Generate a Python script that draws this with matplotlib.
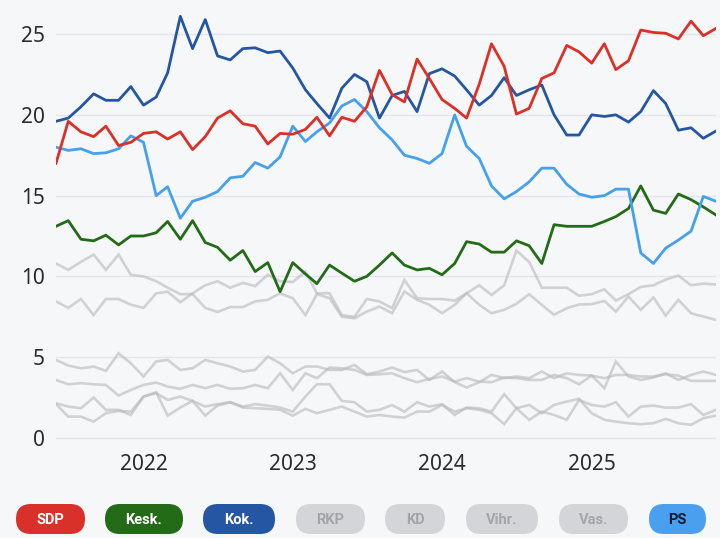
import matplotlib
matplotlib.use('Agg')
import matplotlib.pyplot as plt
import pandas as pd
from matplotlib.patches import FancyBboxPatch

dates = pd.date_range('2021-06-01', periods=54, freq='MS')

sdp = [17.0, 19.6, 18.95, 18.65, 19.3, 18.1, 18.3, 18.85, 18.95, 18.5,
       18.95, 17.85, 18.65, 19.8, 20.25, 19.45, 19.3, 18.2, 18.85, 18.8,
       19.1, 19.85, 18.7, 19.85, 19.6, 20.5, 22.75, 21.25, 20.8, 23.45,
       22.25, 20.95, 20.4, 19.8, 21.9, 24.4, 23.0, 20.05, 20.4, 22.25,
       22.6, 24.3, 23.9, 23.2, 24.4, 22.8, 23.35, 25.25, 25.1, 25.05,
       24.7, 25.8, 24.9, 25.35]
kok = [19.6, 19.8, 20.5, 21.3, 20.9, 20.9, 21.75, 20.6, 21.1, 22.6,
       26.1, 24.1, 25.9, 23.65, 23.4, 24.1, 24.15, 23.85, 23.95, 22.9,
       21.55, 20.7, 19.8, 21.65, 22.5, 22.05, 19.8, 21.2, 21.45, 20.2,
       22.55, 22.85, 22.4, 21.55, 20.6, 21.2, 22.3, 21.2, 21.55, 21.85,
       20.0, 18.75, 18.75, 20.0, 19.9, 20.0, 19.55, 20.2, 21.5, 20.7,
       19.05, 19.2, 18.55, 19.0]
ps = [18.0, 17.8, 17.9, 17.6, 17.65, 17.9, 18.7, 18.3, 15.0, 15.55,
      13.6, 14.65, 14.9, 15.25, 16.1, 16.2, 17.05, 16.7, 17.4, 19.3,
      18.35, 18.95, 19.5, 20.55, 20.95, 20.2, 19.2, 18.45, 17.5, 17.3,
      17.0, 17.6, 20.0, 18.05, 17.3, 15.6, 14.8, 15.25, 15.85, 16.7,
      16.7, 15.7, 15.1, 14.9, 15.0, 15.4, 15.4, 11.45, 10.8, 11.75,
      12.25, 12.8, 14.95, 14.65]
kesk = [13.1, 13.45, 12.3, 12.2, 12.55, 11.95, 12.5, 12.5, 12.7, 13.4,
        12.3, 13.45, 12.1, 11.8, 11.0, 11.6, 10.3, 10.85, 9.05, 10.85,
        10.15, 9.55, 10.7, 10.2, 9.7, 10.0, 10.7, 11.45, 10.7, 10.4,
        10.5, 10.1, 10.8, 12.15, 12.0, 11.5, 11.5, 12.2, 11.9, 10.8,
        13.2, 13.1, 13.1, 13.1, 13.4, 13.7, 14.2, 15.6, 14.1, 13.9,
        15.1, 14.75, 14.3, 13.8]
vas = [8.45, 8.05, 8.6, 7.6, 8.6, 8.6, 8.25, 8.05, 8.95, 9.05,
       8.4, 8.95, 9.45, 9.7, 9.3, 9.6, 9.4, 10.1, 9.7, 9.65,
       10.3, 8.95, 8.96, 7.6, 7.5, 8.6, 8.45, 8.03, 9.78, 8.65,
       8.6, 8.6, 8.5, 8.95, 9.45, 8.85, 9.45, 11.6, 10.9, 9.3,
       9.3, 9.3, 8.8, 8.9, 9.2, 8.5, 8.9, 9.35, 9.45, 9.8,
       10.05, 9.45, 9.55, 9.5]
vihr = [10.8, 10.4, 10.9, 11.35, 10.4, 11.35, 10.1, 10.0, 9.7, 9.3,
        8.9, 8.9, 8.05, 7.8, 8.1, 8.1, 8.45, 8.55, 8.95, 8.65,
        7.6, 8.9, 8.65, 7.5, 7.4, 7.82, 8.13, 7.72, 9.06, 8.55,
        8.24, 7.72, 8.24, 8.96, 8.24, 7.72, 7.93, 8.3, 8.9, 8.24,
        7.62, 8.03, 8.26, 8.28, 8.48, 7.82, 8.75, 7.93, 8.69, 7.57,
        8.55, 7.72, 7.51, 7.31]
rkp = [4.83, 4.48, 4.31, 4.42, 4.15, 5.24, 4.62, 3.80, 4.73, 4.83,
       4.21, 4.31, 4.83, 4.62, 4.42, 4.11, 4.21, 5.04, 4.62, 4.00,
       4.42, 4.42, 4.21, 4.21, 4.52, 3.94, 4.11, 4.36, 4.07, 4.21,
       3.59, 4.11, 3.45, 3.12, 3.45, 3.90, 3.70, 3.80, 3.70, 4.11,
       3.70, 4.00, 3.90, 3.86, 3.08, 4.73, 3.80, 3.59, 3.74, 4.00,
       3.59, 3.90, 4.11, 3.90]
kd = [3.59, 3.32, 3.39, 3.32, 3.28, 2.62, 2.97, 3.28, 3.43, 3.18,
      3.04, 3.28, 3.08, 3.28, 3.04, 3.08, 3.28, 3.08, 4.00, 2.97,
      4.00, 3.70, 4.36, 4.31, 4.21, 3.90, 3.94, 4.00, 3.70, 3.45,
      3.65, 3.80, 3.49, 3.70, 3.49, 3.45, 3.74, 3.70, 3.59, 3.59,
      3.90, 3.70, 3.32, 3.86, 3.70, 3.90, 3.90, 3.80, 3.80, 3.94,
      3.86, 3.53, 3.53, 3.53]
liik = [2.15, 1.94, 1.84, 2.50, 1.74, 1.74, 1.42, 2.56, 2.77, 2.35,
        2.56, 2.29, 1.94, 2.09, 2.21, 1.94, 2.09, 2.00, 1.88, 1.63,
        2.56, 3.32, 3.32, 2.29, 2.21, 1.63, 1.74, 2.04, 1.63, 2.21,
        1.94, 2.09, 1.42, 1.88, 1.84, 1.63, 2.71, 1.84, 2.04, 1.53,
        2.04, 2.25, 2.42, 1.53, 1.12, 1.01, 0.91, 0.85, 0.91, 1.18,
        0.91, 0.81, 1.22, 1.38]
muut = [2.09, 1.32, 1.32, 1.01, 1.53, 1.67, 1.63, 2.56, 2.83, 1.38,
        1.88, 2.29, 1.38, 2.00, 2.21, 1.88, 1.84, 1.80, 1.74, 1.38,
        1.80, 1.53, 1.74, 1.94, 1.63, 1.32, 1.42, 1.32, 1.26, 1.63,
        1.63, 2.04, 1.63, 1.84, 1.74, 1.53, 0.85, 1.84, 1.12, 1.63,
        1.42, 1.12, 2.35, 2.04, 1.94, 2.21, 1.32, 1.94, 2.00, 1.88,
        1.88, 2.09, 1.42, 1.74]

y_ticks = [0, 5, 10, 15, 20, 25]
x_tick_labels = ['2022', '2023', '2024', '2025']

legend_labels = ['SDP', 'Kesk.', 'Kok.', 'RKP', 'KD', 'Vihr.', 'Vas.', 'PS']
legend_colors = ['#d9302a', '#236b17', '#2556a3', '#d4d5d8', '#d4d5d8',
                 '#d4d5d8', '#d4d5d8', '#4aa0ee']
legend_text_colors = ['white', 'white', 'white', '#a4a5a8', '#a4a5a8',
                      '#a4a5a8', '#a4a5a8', '#0d1b2e']

BG = '#f6f7f9'
fig = plt.figure(figsize=(7.2, 5.38), dpi=100, facecolor=BG)
ax = fig.add_axes([56 / 720, (538 - 446) / 538, (716 - 56) / 720, (446 - 5) / 538])
ax.set_facecolor(BG)

grey = '#b9b9bb'
for s in [vihr, vas, rkp, kd, liik, muut]:
    ax.plot(dates, s, color=grey, lw=1.9, alpha=0.6, solid_joinstyle='miter')

ax.plot(dates, kesk, color='#236b17', lw=2.0)
ax.plot(dates, ps, color='#45a1ee', lw=2.0)
ax.plot(dates, kok, color='#2556a3', lw=2.0)
ax.plot(dates, sdp, color='#dc2f27', lw=2.0)

ax.set_xlim(dates[0], dates[-1])
ax.set_ylim(-0.5, 26.8)
ax.set_yticks(y_ticks)
ax.set_yticklabels([str(v) for v in y_ticks])
ax.set_xticks([pd.Timestamp(f'{y}-01-01') for y in x_tick_labels])
ax.set_xticklabels(x_tick_labels)
ax.grid(axis='y', color='#e4e4f2', lw=1)
ax.set_axisbelow(True)
for sp in ax.spines.values():
    sp.set_visible(False)
ax.tick_params(axis='both', length=0, labelsize=15, colors='#2b2b2b')
ax.tick_params(axis='y', pad=8)
ax.tick_params(axis='x', pad=5.5)
for lab in ax.get_xticklabels() + ax.get_yticklabels():
    lab.set_fontfamily('Noto Sans')

# legend pills
lax = fig.add_axes([0, 0, 1, 1])
lax.set_xlim(0, 720)
lax.set_ylim(538, 0)
lax.axis('off')
pill_x = [(16, 85), (105, 183), (203, 275), (296, 365), (385, 445),
          (466, 538), (559, 628), (649, 706)]
y0, y1 = 504, 534
for (xa, xb), lab, c, tc in zip(pill_x, legend_labels, legend_colors, legend_text_colors):
    h = y1 - y0
    p = FancyBboxPatch((xa, y0), xb - xa, h,
                       boxstyle=f'round,pad=0,rounding_size={h / 2}',
                       fc=c, ec='none')
    lax.add_patch(p)
    lax.text((xa + xb) / 2, (y0 + y1) / 2 + 0.5, lab, ha='center', va='center',
             fontsize=10.5, fontweight='bold', color=tc, family='Roboto')

fig.savefig('out.png', dpi=100, facecolor=BG)
